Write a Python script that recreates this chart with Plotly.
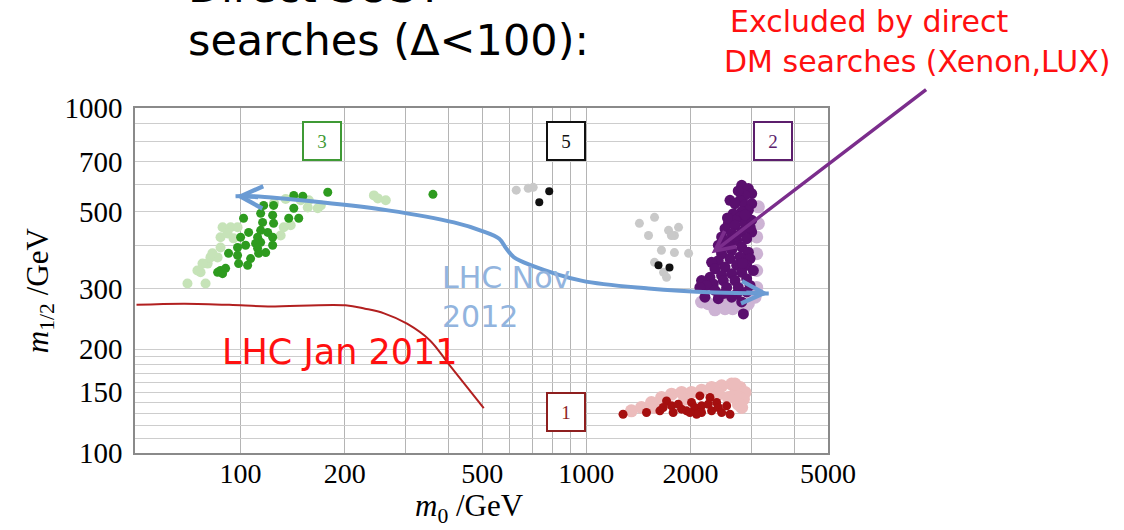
import numpy as np
import plotly.graph_objects as go

# ---- scan points in the (m0, m1/2) plane, GeV ----
# region 3 (green)
green_m0 = [178.7, 360, 142.5, 151.3, 116.6, 124.6, 114.3, 123.8, 142.5, 102, 137.8, 147.3,
            115.8, 124.6, 114.3, 119.8, 105.5, 100, 112, 123.8, 114.3, 110.5, 103.4, 123.8,
            98, 112, 92.3, 98, 112.8, 118.2, 106.9, 98.7, 104.8, 87.5, 85.8, 90.5, 88.7]
green_m12 = [570, 562, 558, 555, 522, 522, 495, 489, 512, 479, 479, 479,
             466, 463, 442, 436, 436, 422, 422, 422, 408, 405, 400, 400,
             394, 392, 379, 374, 379, 381, 366, 354, 350, 338, 334, 343, 331]
green_pale_m0 = [70.2, 79.2, 76.6, 75, 80.3, 81.8, 85.8, 87.5, 87.5, 88.7, 93.6, 91.7, 98, 95.4,
                 130.6, 133.3, 139.6, 156.4, 167.2, 170.6, 157.5, 149.3, 243, 263, 249.5,
                 82.9, 77.6, 125, 135]
green_pale_m12 = [310, 310, 334, 338, 354, 369, 369, 394, 422, 451, 451, 433, 451, 419,
                  427, 451, 457, 515, 512, 522, 540, 540, 558, 540, 547,
                  379, 354, 530, 545]

# region 5 (black / grey)
black_m0 = [781, 731, 1617, 1740]
black_m12 = [574, 533, 350, 345]
grey_m0 = [627, 679, 702, 1424, 1575, 1513, 1729, 1848, 1798, 1762, 1649, 1798, 1976, 1575, 1672, 1706]
grey_m12 = [578, 585, 589, 463, 482, 427, 442, 451, 427, 427, 387, 381, 379, 357, 334, 323]

# region 2 (purple)
purple_m0 = [2814, 2942, 3008, 2877, 2783, 2603, 2692, 2877, 3008, 2942, 2814, 2661,
             2783, 2692, 2574, 2518, 2692, 2877, 3008, 3008, 2814, 2632, 2462, 2909,
             2722, 2546, 2408, 2814, 2942, 2632, 2462, 2975, 2783, 2603, 2408, 2303,
             2909, 2722, 2518, 2355, 3041, 2814, 2632, 2462, 2278, 2154, 2329, 2490,
             2692, 2909, 2975, 2752, 2546, 2228, 2130, 2355, 2722, 2909, 2203, 2408,
             2632, 2814, 2846, 2750, 2880, 2560, 2700, 2440, 2600, 2830, 2980, 2500]
purple_m12 = [597, 584, 565, 559, 540, 540, 528, 523, 528, 505, 500, 494,
              483, 473, 462, 447, 457, 462, 473, 437, 437, 432, 423, 418,
              413, 409, 400, 395, 382, 387, 378, 366, 370, 366, 361, 357,
              350, 350, 346, 342, 338, 334, 331, 327, 323, 316, 309, 316,
              316, 320, 306, 302, 302, 306, 302, 296, 289, 293, 283, 280,
              283, 274, 253, 575, 490, 480, 425, 390, 395, 355, 450, 290]
purple_pale_m0 = [3145, 3145, 3110, 3110, 3110, 3110, 3076, 2942, 2752, 2574, 2408, 2253,
                  2355, 2518, 2154, 2942, 2650, 2850]
purple_pale_m12 = [517, 462, 423, 378, 338, 302, 283, 271, 268, 271, 268, 271,
                   260, 262, 274, 540, 262, 262]

# region 1 (red)
red_m0 = [1277, 1493, 1632, 1706, 1668, 1764, 1783, 1886, 1950, 2015, 2061, 2130,
          2154, 2154, 2278, 2252, 2303, 2382, 2408, 2462, 2546, 2603, 2084, 1844, 1993]
red_m12 = [129.5, 131, 132.5, 141.6, 135.5, 137, 131, 134, 132.5, 140.1, 135.5, 146.4,
           137, 131, 144.8, 138.5, 132.5, 140.1, 135.5, 131, 137, 129.5, 129.5, 138.5, 131]
red_pale_m0 = [1350, 1443, 1543, 1650, 1764, 1886, 2015, 2154, 2303, 2462, 2632, 2783,
               2877, 2846, 2752, 2692, 2408, 1928, 1578, 2574, 2814, 2692]
red_pale_m12 = [132.5, 135.5, 140.1, 144.8, 148.1, 149.8, 149.8, 152.1, 154.9, 156.6, 158.4, 154.9,
                149.8, 143.2, 138.5, 148.1, 148.1, 143.2, 135.5, 144.8, 135.5, 158.4]

# LHC Jan 2011 exclusion contour
lhc2011_m0 = [50, 69, 100, 120, 201, 229, 260, 303, 353, 400, 505]
lhc2011_m12 = [269, 271, 268, 266, 268, 262, 254, 237, 212, 181, 135]

# hand-drawn LHC Nov 2012 arrow path
nov2012_m0 = [96.7, 109, 171, 267, 414, 500, 560, 586, 618, 693, 967, 1513, 2350, 3370]
nov2012_m12 = [555, 555, 533, 505, 466, 440, 418, 392, 369, 350, 316, 300, 292, 290]

# region labels: (text, m0, m1/2, colour)
region_labels = [("3", 171.7, 802, "#3f9a35"), ("5", 875, 802, "#111111"),
                 ("2", 3460, 802, "#5c1e6c"), ("1", 875, 131.6, "#8e1f1f")]

x_ticks = [100, 200, 300, 400, 500, 600, 700, 800, 900, 1000, 2000, 3000, 4000, 5000]
x_labels = {100: "100", 200: "200", 500: "500", 1000: "1000", 2000: "2000", 5000: "5000"}
y_ticks = [100, 110, 120, 130, 140, 150, 160, 170, 180, 190, 200, 300, 400, 500, 600, 700, 800, 900, 1000]
y_labels = {100: "100", 150: "150", 200: "200", 300: "300", 500: "500", 700: "700", 1000: "1000"}

SERIF = "Liberation Serif, Times New Roman, serif"
HAND = "DejaVu Sans, Noto Sans, sans-serif"

fig = go.Figure()


def dots(xs, ys, color, size):
    fig.add_trace(go.Scatter(x=xs, y=ys, mode="markers", hoverinfo="skip",
                             marker=dict(color=color, size=size, line=dict(width=0))))


dots(green_pale_m0, green_pale_m12, "#c6e3b8", 10)
dots(grey_m0, grey_m12, "#c9c9c9", 9)
dots(purple_pale_m0, purple_pale_m12, "#cdb3d4", 13)
dots(red_pale_m0, red_pale_m12, "#ecbcbc", 13)
dots(green_m0, green_m12, "#2e9b1f", 9)
dots(black_m0, black_m12, "#111111", 8)
dots(purple_m0, purple_m12, "#5a0f6e", 11)
dots(red_m0, red_m12, "#a50f0f", 9)

fig.add_trace(go.Scatter(x=lhc2011_m0, y=lhc2011_m12, mode="lines", hoverinfo="skip",
                         line=dict(color="#b22020", width=2, shape="spline")))
fig.add_trace(go.Scatter(x=nov2012_m0, y=nov2012_m12, mode="lines", hoverinfo="skip",
                         line=dict(color="#6b9bd3", width=4, shape="spline", smoothing=1.0)))

ann = []
# arrow heads of the Nov 2012 curve
ann.append(dict(x=np.log10(nov2012_m0[0]), y=np.log10(nov2012_m12[0]), xref="x", yref="y",
                ax=24, ay=1, text="", showarrow=True, arrowhead=5, arrowsize=1.1,
                arrowwidth=4, arrowcolor="#6b9bd3"))
ann.append(dict(x=np.log10(nov2012_m0[-1]), y=np.log10(nov2012_m12[-1]), xref="x", yref="y",
                ax=-24, ay=-1, text="", showarrow=True, arrowhead=5, arrowsize=1.1,
                arrowwidth=4, arrowcolor="#6b9bd3"))
# direct detection arrow
ann.append(dict(x=np.log10(2303), y=np.log10(379), xref="x", yref="y",
                ax=216, ay=-165, text="", showarrow=True, arrowhead=5, arrowsize=1.1,
                arrowwidth=3.5, arrowcolor="#7b2d8c"))

for txt, m0, m12, col in region_labels:
    ann.append(dict(x=np.log10(m0), y=np.log10(m12), xref="x", yref="y", text=txt,
                    showarrow=False, font=dict(family=SERIF, size=19, color=col),
                    bordercolor=col, borderwidth=2, width=34, height=34, bgcolor="white"))

ann.append(dict(x=0.44, y=0.452, xref="paper", yref="paper", xanchor="left", yanchor="middle",
                text="LHC Nov<br>2012", align="left", showarrow=False,
                font=dict(family=HAND, size=30, color="#92b4de")))
ann.append(dict(x=0.1227, y=0.293, xref="paper", yref="paper", xanchor="left", yanchor="middle",
                text="LHC Jan 2011", showarrow=False,
                font=dict(family=HAND, size=35, color="#ff1010")))

# headings above the frame
ann.append(dict(x=0.074, y=1.352, xref="paper", yref="paper", xanchor="left", yanchor="middle",
                text="Direct SUSY", showarrow=False, font=dict(family=HAND, size=43, color="black")))
ann.append(dict(x=0.074, y=1.197, xref="paper", yref="paper", xanchor="left", yanchor="middle",
                text="searches (Δ<100):", showarrow=False, font=dict(family=HAND, size=43, color="black")))
ann.append(dict(x=0.855, y=1.25, xref="paper", yref="paper", xanchor="left", yanchor="middle",
                text="Excluded by direct", showarrow=False, font=dict(family=HAND, size=30, color="#ff1010")))
ann.append(dict(x=0.847, y=1.135, xref="paper", yref="paper", xanchor="left", yanchor="middle",
                text="DM searches (Xenon,LUX)", showarrow=False, font=dict(family=HAND, size=30, color="#ff1010")))

# axis titles
ann.append(dict(x=-0.137, y=0.472, xref="paper", yref="paper", xanchor="center", yanchor="middle",
                textangle=-90, text="<i>m</i><sub>1/2</sub> /GeV", showarrow=False,
                font=dict(family=SERIF, size=31, color="black")))
ann.append(dict(x=0.483, y=-0.16, xref="paper", yref="paper", xanchor="center", yanchor="middle",
                text="<i>m</i><sub>0</sub> /GeV", showarrow=False,
                font=dict(family=SERIF, size=31, color="black")))

fig.update_layout(
    width=1124, height=530,
    margin=dict(l=135, r=296, t=108, b=77),
    paper_bgcolor="white", plot_bgcolor="white",
    showlegend=False,
    annotations=ann,
    xaxis=dict(type="log", range=[np.log10(49.5), np.log10(5000)],
               tickvals=x_ticks, ticktext=[x_labels.get(v, "") for v in x_ticks],
               showgrid=True, gridcolor="#b4b4b4", gridwidth=1,
               showline=True, linecolor="#8a8a8a", linewidth=1.5, mirror=True,
               ticks="", ticklabelstandoff=-5, zeroline=False,
               tickfont=dict(family=SERIF, size=28, color="black")),
    yaxis=dict(type="log", range=[2, 3],
               tickvals=y_ticks, ticktext=[y_labels.get(v, "") for v in y_ticks],
               showgrid=True, gridcolor="#cdcdcd", gridwidth=1,
               showline=True, linecolor="#8a8a8a", linewidth=1.5, mirror=True,
               ticks="", ticklabelstandoff=5, zeroline=False,
               tickfont=dict(family=SERIF, size=29, color="black")),
)

fig.write_html("out.html")
